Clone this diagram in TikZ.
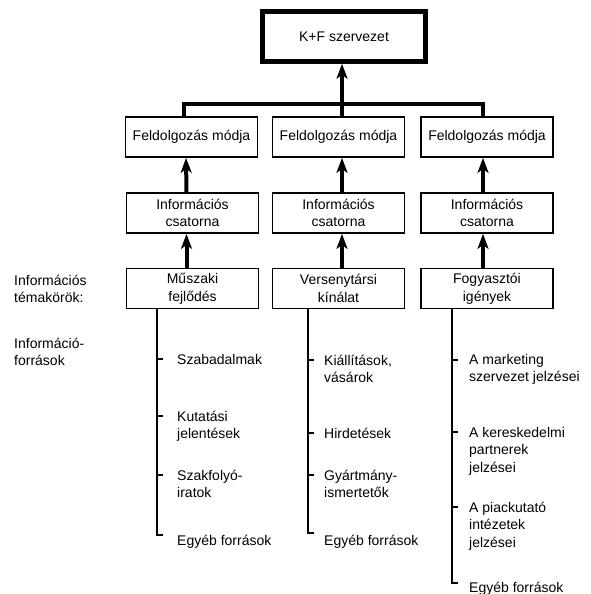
\documentclass[tikz,border=0pt]{standalone}
\usepackage{fontspec}
\setmainfont{Liberation Sans}
\usetikzlibrary{arrows.meta}
\newcommand\diafont{\fontsize{14}{17.8}\selectfont}
\newcommand\ml[1]{\begin{tabular}[t]{@{}l@{}}#1\end{tabular}}
\tikzset{
  box/.style={draw, line width=1.7pt, minimum width=132pt, minimum height=40pt,
    inner sep=0pt, align=center, font=\diafont},
  topbox/.style={box, line width=4.5pt, minimum width=163pt, minimum height=50pt},
  uparrow/.style={line width=4pt, -{Stealth[length=15pt,width=11pt,inset=4pt]}},
  barline/.style={line width=4.5pt, line join=miter},
  src/.style={line width=1.6pt},
  srctext/.style={anchor=base west, inner sep=0pt, font=\diafont},
  sidetext/.style={anchor=base west, inner sep=0pt, font=\diafont}
}
\begin{document}
\begin{tikzpicture}[x=1pt,y=-1pt]
\useasboundingbox (0,0) rectangle (591,594);
% top
\node[topbox] (kf) at (344,36.5) {K+F szervezet};
% level 2
\node[box] (f1) at (191.5,137) {Feldolgozás módja};
\node[box] (f2) at (338.5,137) {Feldolgozás módja};
\node[box] (f3) at (487,137) {Feldolgozás módja};
% level 3
\node[box] (i1) at (192.5,213) {Információs\\csatorna};
\node[box] (i2) at (338.5,213) {Információs\\csatorna};
\node[box] (i3) at (487,213) {Információs\\csatorna};
% level 4
\node[box] (t1) at (192.5,288.5) {Műszaki\\fejlődés};
\node[box] (t2) at (338.5,288.5) {Versenytársi\\kínálat};
\node[box] (t3) at (487,288.5) {Fogyasztói\\igények};
% bar and arrows
\coordinate (bar) at (342,104);
\draw[barline] ([xshift=-7.5pt]f1.north) |- (bar) -| ([xshift=-4pt]f3.north);
\draw[barline] ([xshift=3.5pt]f2.north) -- (bar);
\draw[uparrow] (bar) -- ([xshift=-2pt]kf.south);
\draw[uparrow] ([xshift=-6pt]i1.north) -- ([xshift=-5.5pt]f1.south);
\draw[uparrow] ([xshift=3.5pt]i2.north) -- ([xshift=3.5pt]f2.south);
\draw[uparrow] ([xshift=-4pt]i3.north) -- ([xshift=-4pt]f3.south);
\draw[uparrow] ([xshift=-6pt]t1.north) -- ([xshift=-6pt]i1.south);
\draw[uparrow] ([xshift=3.5pt]t2.north) -- ([xshift=3.5pt]i2.south);
\draw[uparrow] ([xshift=-4pt]t3.north) -- ([xshift=-4pt]i3.south);
% side labels
\node[sidetext] (lab1) at (14,285) {\ml{Információs\\témakörök:}};
\node[sidetext] (lab2) at (14,348) {\ml{Információ-\\források}};
% column 1 sources
\coordinate (e1) at (163,535);
\draw[src] ([xshift=-35.5pt]t1.south) |- (e1);
\draw[src] (157,359) -- (163,359);
\draw[src] (157,416) -- (163,416);
\draw[src] (157,475) -- (163,475);
\node[srctext] (s11) at (177,364) {Szabadalmak};
\node[srctext] (s12) at (177,421) {\ml{Kutatási\\jelentések}};
\node[srctext] (s13) at (177,480) {\ml{Szakfolyó-\\iratok}};
\node[srctext] (s14) at (177,545) {Egyéb források};
% column 2 sources
\coordinate (e2) at (314,533);
\draw[src] ([xshift=-30.5pt]t2.south) |- (e2);
\draw[src] (308,360) -- (314,360);
\draw[src] (308,433) -- (314,433);
\draw[src] (308,475) -- (314,475);
\node[srctext] (s21) at (324,365) {\ml{Kiállítások,\\vásárok}};
\node[srctext] (s22) at (324,438) {Hirdetések};
\node[srctext] (s23) at (324,480) {\ml{Gyártmány-\\ismertetők}};
\node[srctext] (s24) at (324,545) {Egyéb források};
% column 3 sources
\coordinate (e3) at (458,583);
\draw[src] ([xshift=-35pt]t3.south) |- (e3);
\draw[src] (452,360) -- (458,360);
\draw[src] (452,432) -- (458,432);
\draw[src] (452,507) -- (458,507);
\node[srctext] (s31) at (469,364) {\ml{A marketing\\szervezet jelzései}};
\node[srctext] (s32) at (469,437) {\ml{A kereskedelmi\\partnerek\\jelzései}};
\node[srctext] (s33) at (469,512) {\ml{A piackutató\\intézetek\\jelzései}};
\node[srctext] (s34) at (469,592) {Egyéb források};
\end{tikzpicture}
\end{document}
